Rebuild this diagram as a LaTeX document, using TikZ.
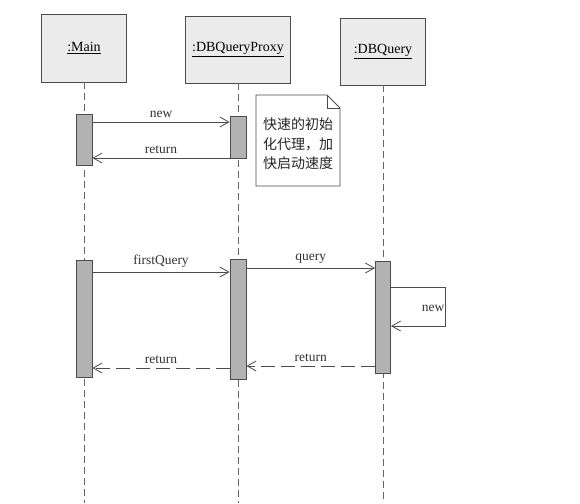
\documentclass[tikz,border=0pt]{standalone}
\usepackage{fontspec}
\setmainfont{Liberation Serif}
\newfontfamily\cjk{Noto Sans CJK SC}
\usetikzlibrary{arrows.meta}
\begin{document}
\begin{tikzpicture}[x=1pt,y=-1pt,
  obj/.style={draw=black!70,fill=black!8,line width=0.8pt,inner sep=0pt,font=\fontsize{14}{16}\selectfont},
  act/.style={draw=black!70,fill=black!30,line width=0.8pt,minimum width=16pt,inner sep=0pt},
  life/.style={draw=black!60,line width=0.7pt,dash pattern=on 7pt off 4pt},
  msg/.style={draw=black!70,line width=0.8pt,-{Straight Barb[length=9pt,width=10pt]}},
  ret/.style={msg,dash pattern=on 14pt off 6pt},
  lbl/.style={font=\fontsize{13.5}{15}\selectfont,text=black!80,inner sep=1pt}]
\useasboundingbox (0,0) rectangle (580,503);
\fill[white] (0,0) rectangle (580,503);
% objects
\node[obj,minimum width=85pt,minimum height=68pt] (main) at (84,48) {\underline{:Main}};
\node[obj,minimum width=105pt,minimum height=67pt] (proxy) at (238,49.5) {\underline{:DBQueryProxy}};
\node[obj,minimum width=85pt,minimum height=67pt] (dbq) at (383,51.5) {\underline{:DBQuery}};
% lifeline ends
\coordinate (mainend) at (84,503);
\coordinate (proxyend) at (238,503);
\coordinate (dbqend) at (383,503);
\draw[life] (main.south) -- (mainend);
\draw[life] (proxy.south) -- (proxyend);
\draw[life] (dbq.south) -- (dbqend);
% activations
\node[act,minimum height=51pt] (m1) at (84,139.5) {};
\node[act,minimum height=42pt] (p1) at (238,137) {};
\node[act,minimum height=117pt] (m2) at (84,318.5) {};
\node[act,minimum height=120pt] (p2) at (238,319) {};
\node[act,minimum height=112pt,minimum width=15pt] (d2) at (383,317) {};
% note
\node[align=left,inner sep=0pt,font=\cjk\fontsize{14}{19.5}\selectfont,text=black!85] (note) at (298,144)
  {快速的初始\\化代理，加\\快启动速度};
\coordinate (nNW) at (256,95);
\coordinate (nSE) at (340,186);
\draw[draw=black!70,line width=0.8pt] (nNW) -- (327,95) -- (340,108) -- (nSE) -- (256,186) -- cycle;
\draw[draw=black!70,line width=0.8pt] (327,95) -- (327,108) -- (340,108);
% messages part 1
\draw[msg] (m1.east |- 0,122) -- node[lbl,above=3pt] {new} (p1.west |- 0,122);
\draw[msg] (p1.west |- 0,158) -- node[lbl,above=3pt] {return} (m1.east |- 0,158);
% messages part 2
\draw[msg] (m2.east |- 0,272) -- node[lbl,above=3pt] {firstQuery} (p2.west |- 0,272);
\draw[msg] (p2.east |- 0,268) -- node[lbl,above=3pt] {query} (d2.west |- 0,268);
\coordinate (selfA) at (445,287);
\coordinate (selfB) at (445,326);
\draw[msg] (d2.east |- 0,287) -- (selfA) -- (selfB) -- (d2.east |- 0,326);
\node[lbl,fill=white,inner sep=0.5pt] (selflbl) at (433,308) {new};
\draw[ret] (d2.west |- 0,366) -- node[lbl,above=3pt] {return} (p2.east |- 0,366);
\draw[ret] (p2.west |- 0,368) -- node[lbl,above=3pt] {return} (m2.east |- 0,368);
\end{tikzpicture}
\end{document}
